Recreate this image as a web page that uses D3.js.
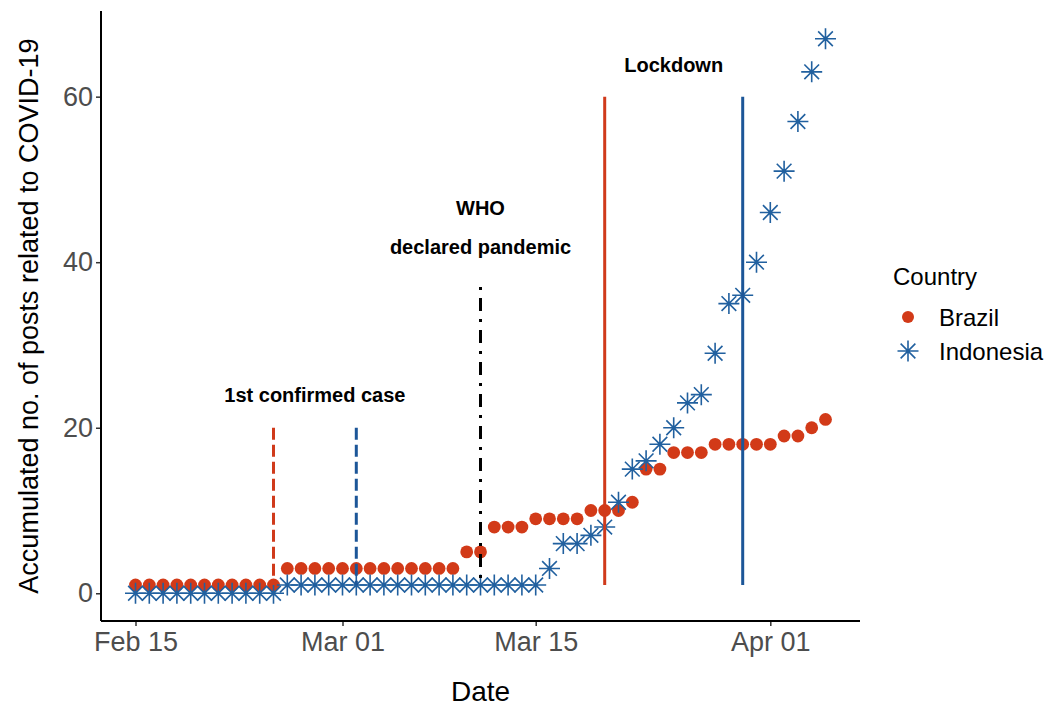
<!DOCTYPE html>
<html>
<head>
<meta charset="utf-8">
<script src="https://cdn.jsdelivr.net/npm/d3@7"></script>
<style>
  body { margin: 0; background: #fff; }
  text { font-family: "Liberation Sans", Arial, sans-serif; }
</style>
</head>
<body>
<div id="chart"></div>
<script>
// Daily dates, Feb 15 to Apr 5 2020
const dates = d3.utcDay.range(new Date(Date.UTC(2020, 1, 15)), new Date(Date.UTC(2020, 3, 6)));

// Accumulated posts, one value per day
const brazil = [1,1,1,1,1,1,1,1,1,1,1, 3,3,3,3,3,3,3,3,3,3,3,3,3, 5,5, 8,8,8, 9,9,9,9,
  10,10,10, 11, 15,15, 17,17,17, 18,18,18,18,18, 19,19, 20, 21];
const indonesia = [0,0,0,0,0,0,0,0,0,0,0, 1,1,1,1,1,1,1,1,1,1,1,1,1,1,1,1,1,1,1,
  3, 6, 6, 7, 8, 11, 15, 16, 18, 20, 23, 24, 29, 35, 36, 40, 46, 51, 57, 63, 67];

// Event markers: date, y from, y to, colour, dash
const events = [
  { date: "2020-02-25", y0: 1, y1: 20, color: "#D03A1B", dash: "12,5" },
  { date: "2020-03-02", y0: 1, y1: 20, color: "#1C5698", dash: "12,5" },
  { date: "2020-03-11", y0: 1, y1: 37, color: "#000000", dash: "3,8,13,8" },
  { date: "2020-03-20", y0: 1, y1: 60, color: "#D03A1B", dash: null },
  { date: "2020-03-30", y0: 1, y1: 60, color: "#1C5698", dash: null }
];

const labels = [
  { date: "2020-02-28", y: 24, text: "1st confirmed case" },
  { date: "2020-03-11", y: 46.5, text: "WHO" },
  { date: "2020-03-11", y: 41.8, text: "declared pandemic" },
  { date: "2020-03-25", y: 63.8, text: "Lockdown" }
];

const xTicks = ["2020-02-15", "2020-03-01", "2020-03-15", "2020-04-01"];
const yTicks = [0, 20, 40, 60];

const red = "#D23A18";
const blue = "#21609F";

const width = 1054;
const height = 709;
const margin = { top: 11, right: 194, bottom: 88, left: 101 };

const svg = d3.select("#chart")
  .append("svg")
  .attr("width", width)
  .attr("height", height);

const parse = d3.utcParse("%Y-%m-%d");

// ggplot-like expansion of 2.5 days / 5% on each side
const x = d3.scaleUtc()
  .domain([d3.utcHour.offset(dates[0], -60), d3.utcHour.offset(dates[dates.length - 1], 60)])
  .range([margin.left, width - margin.right]);

const y = d3.scaleLinear()
  .domain([-3.35, 70.35])
  .range([height - margin.bottom, margin.top]);

// x axis
const xAxis = svg.append("g")
  .attr("transform", `translate(0,${height - margin.bottom})`)
  .call(d3.axisBottom(x).tickValues(xTicks.map(parse)).tickFormat(d3.utcFormat("%b %d")).tickSize(5).tickPadding(6));
xAxis.select(".domain").remove();
xAxis.selectAll(".tick line").attr("stroke", "#333").attr("stroke-width", 1.5);
xAxis.selectAll(".tick text").attr("fill", "#4D4D4D").attr("font-size", "27px");

// y axis
const yAxis = svg.append("g")
  .attr("transform", `translate(${margin.left},0)`)
  .call(d3.axisLeft(y).tickValues(yTicks).tickSize(5).tickPadding(3));
yAxis.select(".domain").remove();
yAxis.selectAll(".tick line").attr("stroke", "#333").attr("stroke-width", 1.5);
yAxis.selectAll(".tick text").attr("fill", "#4D4D4D").attr("font-size", "27px");

// axis lines
svg.append("line")
  .attr("x1", margin.left).attr("x2", margin.left)
  .attr("y1", margin.top).attr("y2", height - margin.bottom)
  .attr("stroke", "#000").attr("stroke-width", 2);
svg.append("line")
  .attr("x1", margin.left).attr("x2", width - margin.right)
  .attr("y1", height - margin.bottom).attr("y2", height - margin.bottom)
  .attr("stroke", "#000").attr("stroke-width", 2);

// Brazil points
svg.append("g")
  .attr("fill", red)
  .selectAll("circle")
  .data(brazil)
  .join("circle")
    .attr("cx", (d, i) => x(dates[i]))
    .attr("cy", d => y(d))
    .attr("r", 6.4);

// asterisk symbol (pch 8)
function star(g, s) {
  const a = s * 0.7;
  g.append("path")
    .attr("d", `M${-s},0H${s}M0,${-s}V${s}M${-a},${-a}L${a},${a}M${-a},${a}L${a},${-a}`);
}

svg.append("g")
  .attr("stroke", blue)
  .attr("stroke-width", 1.6)
  .attr("fill", "none")
  .selectAll("g")
  .data(indonesia)
  .join("g")
    .attr("transform", (d, i) => `translate(${x(dates[i])},${y(d)})`)
    .each(function() { star(d3.select(this), 10.5); });

// event segments
svg.append("g")
  .selectAll("line")
  .data(events)
  .join("line")
    .attr("x1", d => x(parse(d.date)))
    .attr("x2", d => x(parse(d.date)))
    .attr("y1", d => y(d.y1))
    .attr("y2", d => y(d.y0))
    .attr("stroke", d => d.color)
    .attr("stroke-width", 3)
    .attr("stroke-dasharray", d => d.dash);

// annotations
svg.append("g")
  .selectAll("text")
  .data(labels)
  .join("text")
    .attr("x", d => x(parse(d.date)))
    .attr("y", d => y(d.y))
    .attr("dy", "0.35em")
    .attr("text-anchor", "middle")
    .attr("font-size", "20px")
    .attr("font-weight", "bold")
    .text(d => d.text);

// axis titles
svg.append("text")
  .attr("x", (margin.left + width - margin.right) / 2)
  .attr("y", 701)
  .attr("text-anchor", "middle")
  .attr("font-size", "28px")
  .text("Date");

svg.append("text")
  .attr("transform", `translate(38,${(margin.top + height - margin.bottom) / 2}) rotate(-90)`)
  .attr("text-anchor", "middle")
  .attr("font-size", "27px")
  .text("Accumulated no. of posts related to COVID-19");

// legend
const legend = svg.append("g").attr("transform", "translate(893,0)");
legend.append("text")
  .attr("x", 0).attr("y", 285)
  .attr("font-size", "24px")
  .text("Country");
legend.append("circle")
  .attr("cx", 15).attr("cy", 317).attr("r", 6).attr("fill", red);
legend.append("g")
  .attr("transform", "translate(15,351)")
  .attr("stroke", blue).attr("stroke-width", 1.6).attr("fill", "none")
  .call(g => star(g, 10.5));
legend.append("text")
  .attr("x", 46).attr("y", 326)
  .attr("font-size", "24px")
  .text("Brazil");
legend.append("text")
  .attr("x", 46).attr("y", 360)
  .attr("font-size", "24px")
  .text("Indonesia");
</script>
</body>
</html>
